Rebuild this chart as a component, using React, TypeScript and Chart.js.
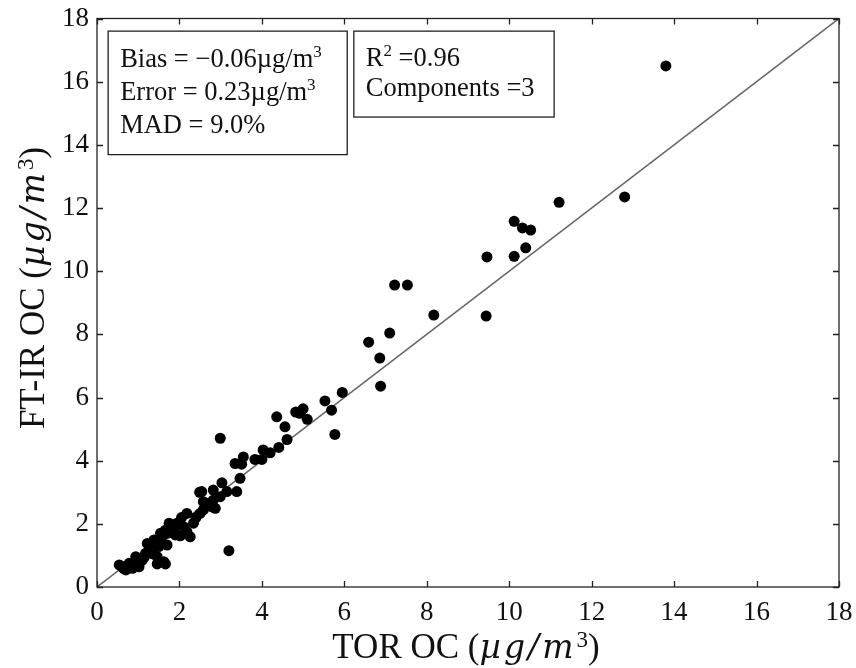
import React, { useEffect, useRef } from 'react';
import { Chart, registerables } from 'chart.js';
Chart.register(...registerables);

// TOR OC (x) and FT-IR OC (y), µg/m³
const torOC = [
  13.8, 12.8, 11.21, 10.12, 10.32, 10.52, 10.4, 10.12, 9.46, 9.44,
  8.17, 7.22, 7.53, 7.1, 6.59, 6.86, 6.88, 5.95, 5.53, 5.69,
  5.77, 5.0, 4.82, 4.92, 5.1, 4.36, 4.56, 4.61, 4.41, 2.99,
  4.2, 4.03, 4.0, 3.83, 3.55, 3.51, 3.35, 3.47, 3.39, 3.03,
  2.82, 3.15, 2.99, 2.82, 2.66, 2.54, 2.58, 2.87, 2.49, 2.58,
  2.79, 2.5, 2.18, 2.34, 2.1, 1.94, 1.78, 1.9, 1.7, 1.54,
  2.18, 2.26, 1.46, 1.7, 3.2, 0.62, 0.7, 0.54, 0.86, 1.02,
  1.1, 0.94, 1.18, 1.3, 1.5, 1.62, 1.46, 1.38, 1.58, 1.66,
  1.75, 0.78, 1.22, 1.06, 1.66, 1.46, 2.02, 1.86, 2.4, 2.05,
  1.35, 0.9, 0.65, 1.15
];
const ftirOC = [
  16.5, 12.35, 12.18, 11.58, 11.37, 11.3, 10.74, 10.47, 10.45, 8.58,
  8.61, 9.56, 9.56, 8.04, 7.75, 7.25, 6.36, 6.16, 5.89, 5.6,
  4.83, 5.64, 5.54, 5.5, 5.31, 5.39, 5.07, 4.67, 4.42, 4.71,
  4.25, 4.34, 4.04, 4.04, 4.12, 3.89, 3.91, 3.44, 3.02, 3.3,
  3.07, 3.02, 2.86, 2.75, 2.65, 3.02, 2.44, 2.49, 3.0, 2.7,
  2.54, 2.33, 2.33, 2.02, 1.91, 2.02, 1.91, 1.65, 1.7, 1.7,
  1.75, 1.59, 1.38, 1.33, 1.15, 0.64, 0.54, 0.7, 0.59, 0.64,
  0.85, 0.96, 1.07, 1.17, 1.28, 0.8, 0.96, 1.49, 1.59, 1.8,
  2.02, 0.75, 1.38, 0.91, 0.73, 0.73, 1.62, 1.8, 2.2, 2.2,
  1.05, 0.75, 0.58, 0.95
];
const oneToOne = [0, 18];
const tickValues = [0, 2, 4, 6, 8, 10, 12, 14, 16, 18];

type Seg = { t: string; sup?: boolean; it?: boolean };
const statsLeft: Seg[][] = [
  [{ t: 'Bias = −0.06µg/m' }, { t: '3', sup: true }],
  [{ t: 'Error = 0.23µg/m' }, { t: '3', sup: true }],
  [{ t: 'MAD = 9.0%' }],
];
const statsRight: Seg[][] = [
  [{ t: 'R' }, { t: '2', sup: true }, { t: ' =0.96' }],
  [{ t: 'Components =3' }],
];
const xTitle: Seg[] = [{ t: 'TOR OC (' }, { t: 'µg/m', it: true }, { t: '3', sup: true }, { t: ')' }];
const yTitle: Seg[] = [{ t: 'FT-IR OC (' }, { t: 'µg/m', it: true }, { t: '3', sup: true }, { t: ')' }];

const SERIF = '"Liberation Serif", "DejaVu Serif", serif';
const MATH = '"DejaVu Serif", "Liberation Serif", serif';

function segFont(s: Seg, size: number, math: boolean) {
  if (s.sup) return `${Math.round(size * 0.66)}px ${SERIF}`;
  if (s.it && math) return `italic ${Math.round(size * 0.94)}px ${MATH}`;
  return `${s.it ? 'italic ' : ''}${size}px ${SERIF}`;
}
function segWidth(ctx: CanvasRenderingContext2D, s: Seg, size: number, math: boolean, gap: number) {
  ctx.font = segFont(s, size, math);
  if (s.it && math) {
    let w = 0;
    for (const ch of s.t) w += ctx.measureText(ch).width + gap;
    return w;
  }
  return ctx.measureText(s.t).width;
}
function measureSegs(ctx: CanvasRenderingContext2D, segs: Seg[], size: number, math = false, gap = 0) {
  let w = 0;
  for (const s of segs) w += segWidth(ctx, s, size, math, gap);
  return w;
}
function drawSegs(ctx: CanvasRenderingContext2D, segs: Seg[], size: number, x: number, y: number, math = false, gap = 0, supRise = 0.4) {
  let cx = x;
  ctx.textBaseline = 'alphabetic';
  ctx.textAlign = 'left';
  for (const s of segs) {
    ctx.font = segFont(s, size, math);
    if (s.it && math) {
      for (const ch of s.t) {
        ctx.fillText(ch, cx, y);
        cx += ctx.measureText(ch).width + gap;
      }
    } else {
      ctx.fillText(s.t, cx, s.sup ? y - size * supRise : y);
      cx += ctx.measureText(s.t).width;
    }
  }
}

const decorPlugin = {
  id: 'decor',
  afterDraw(chart: any) {
    const { ctx, chartArea, scales } = chart;
    const { left, right, top, bottom } = chartArea;
    const xs = scales.x;
    const ys = scales.y;
    ctx.save();
    ctx.strokeStyle = '#222';
    ctx.lineWidth = 1.3;
    ctx.strokeRect(left, top, right - left, bottom - top);
    const tl = 6;
    ctx.beginPath();
    for (const v of tickValues) {
      const px = Math.round(xs.getPixelForValue(v)) + 0.5;
      ctx.moveTo(px, bottom); ctx.lineTo(px, bottom - tl);
      ctx.moveTo(px, top); ctx.lineTo(px, top + tl);
      const py = Math.round(ys.getPixelForValue(v)) + 0.5;
      ctx.moveTo(left, py); ctx.lineTo(left + tl, py);
      ctx.moveTo(right, py); ctx.lineTo(right - tl, py);
    }
    ctx.stroke();

    // annotation boxes (in data coordinates)
    ctx.lineWidth = 1.3;
    const box = (x0: number, y0: number, x1: number, y1: number) => {
      const a = xs.getPixelForValue(x0), b = ys.getPixelForValue(y0);
      const c = xs.getPixelForValue(x1), d = ys.getPixelForValue(y1);
      ctx.fillStyle = '#fff';
      ctx.fillRect(a, b, c - a, d - b);
      ctx.strokeRect(a, b, c - a, d - b);
      return { a, b };
    };
    const b1 = box(0.27, 17.6, 6.07, 13.69);
    ctx.fillStyle = '#111';
    statsLeft.forEach((line, i) => drawSegs(ctx, line, 26.5, b1.a + 12, b1.b + 36 + i * 33));
    const b2 = box(6.23, 17.6, 11.09, 14.88);
    ctx.fillStyle = '#111';
    statsRight.forEach((line, i) => drawSegs(ctx, line, 26.5, b2.a + 12, b2.b + 35 + i * 30));

    // axis titles
    const tsize = 35;
    const gap = 3;
    const xw = measureSegs(ctx, xTitle, tsize, true, gap);
    drawSegs(ctx, xTitle, tsize, 466 - xw / 2, 658, true, gap, 0.32);
    const yw = measureSegs(ctx, yTitle, tsize, true, gap);
    ctx.translate(44, 288);
    ctx.rotate(-Math.PI / 2);
    drawSegs(ctx, yTitle, tsize, -yw / 2, 0, true, gap, 0.32);
    ctx.restore();
  },
};

export default function App() {
  const ref = useRef<HTMLCanvasElement>(null);
  useEffect(() => {
    if (!ref.current) return;
    const points = torOC.map((v, i) => ({ x: v, y: ftirOC[i] }));
    const line = oneToOne.map((v) => ({ x: v, y: v }));
    const tickFont = { family: SERIF, size: 27 };
    const chart = new Chart(ref.current, {
      type: 'scatter',
      data: {
        datasets: [
          {
            data: points,
            backgroundColor: '#000',
            borderColor: '#000',
            pointRadius: 5.5,
            borderWidth: 0,
          },
          {
            data: line,
            showLine: true,
            pointRadius: 0,
            borderColor: '#666',
            borderWidth: 1.5,
          } as any,
        ],
      },
      options: {
        animation: false,
        responsive: false,
        events: [],
        layout: { padding: { left: 0, top: 18.5, right: 17, bottom: 0 } },
        plugins: { legend: { display: false }, tooltip: { enabled: false } },
        scales: {
          x: {
            type: 'linear',
            min: 0,
            max: 18,
            afterFit: (s: any) => { s.height = 81; s.paddingLeft = 0; s.paddingRight = 0; },
            grid: { display: false, drawTicks: false },
            border: { display: false },
            ticks: { stepSize: 2, color: '#111', font: tickFont, padding: 10, maxRotation: 0 },
          },
          y: {
            type: 'linear',
            min: 0,
            max: 18,
            afterFit: (s: any) => { s.width = 97; s.paddingTop = 0; s.paddingBottom = 0; },
            grid: { display: false, drawTicks: false },
            border: { display: false },
            ticks: { stepSize: 2, color: '#111', font: tickFont, padding: 8 },
          },
        },
      },
      plugins: [decorPlugin],
    });
    return () => chart.destroy();
  }, []);
  return (
    <div style={{ position: 'absolute', left: 0, top: 0, width: 856, height: 668, background: '#fff' }}>
      <canvas ref={ref} width={856} height={668} />
    </div>
  );
}
